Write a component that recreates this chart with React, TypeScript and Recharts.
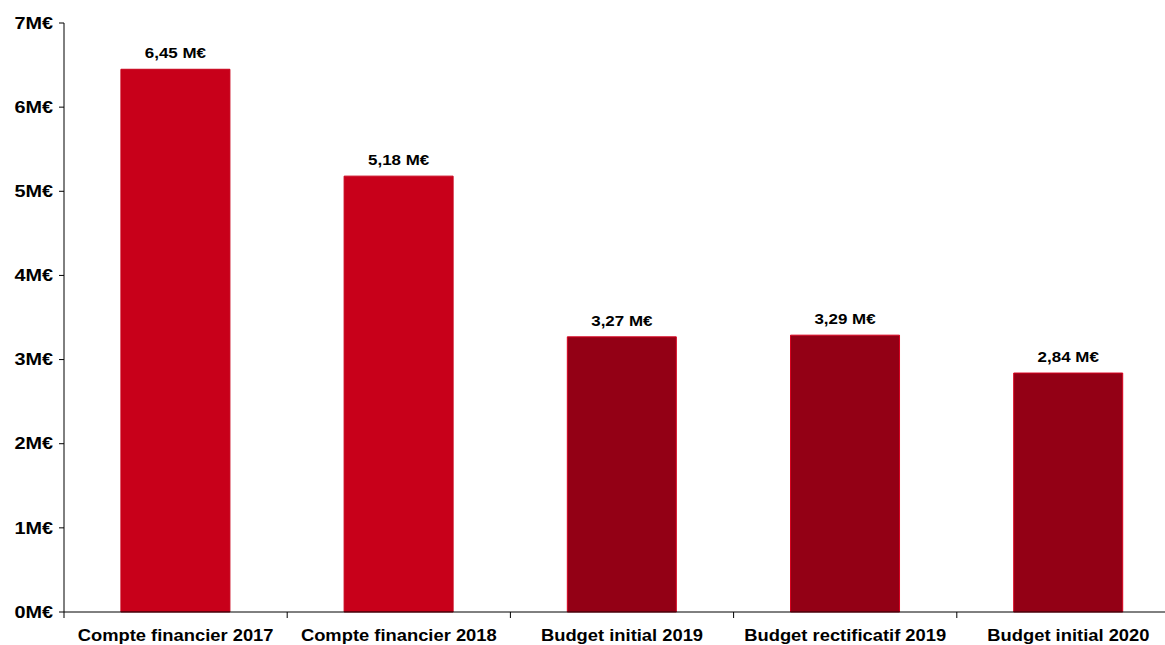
import React from 'react';
import { BarChart, Bar, XAxis, YAxis, LabelList, Cell } from 'recharts';

const categories = [
  'Compte financier 2017',
  'Compte financier 2018',
  'Budget initial 2019',
  'Budget rectificatif 2019',
  'Budget initial 2020',
];
const amounts = [6.45, 5.18, 3.27, 3.29, 2.84];
const isBudget = [false, false, true, true, true];
const yTicks = [0, 1, 2, 3, 4, 5, 6, 7];

const data = categories.map((name, i) => ({ name, value: amounts[i], budget: isBudget[i] }));

const font = 'Liberation Sans, Arial, sans-serif';

// the original text is drawn a little wider than plain Arial bold
const XTick = (props: any) => {
  const { x, y, payload } = props;
  const half = payload && payload.offset ? payload.offset : 111.5;
  return (
    <g>
      <line x1={x - half} y1={y - 8} x2={x - half} y2={y - 2} stroke="#000" strokeWidth={1} />
      <text
        transform={`translate(${x},${y + 21}) scale(1.08,1)`}
        textAnchor="middle"
        fontFamily={font}
        fontWeight="bold"
        fontSize={17}
        fill="#000"
      >
        {payload.value}
      </text>
    </g>
  );
};

const YTick = (props: any) => {
  const { x, y, payload } = props;
  return (
    <text
      transform={`translate(${x},${y}) scale(1.24,1)`}
      textAnchor="end"
      dy="0.36em"
      fontFamily={font}
      fontWeight="bold"
      fontSize={16}
      fill="#000"
    >
      {`${payload.value}M€`}
    </text>
  );
};

const fmt = (v: any) => `${Number(v).toFixed(2).replace('.', ',')} M€`;

const ValueLabel = (props: any) => {
  const { x, y, width, value } = props;
  return (
    <text
      transform={`translate(${x + width / 2},${y - 11}) scale(1.13,1)`}
      textAnchor="middle"
      fontFamily={font}
      fontWeight="bold"
      fontSize={15}
      fill="#000"
    >
      {fmt(value)}
    </text>
  );
};

export default function App() {
  return (
    <div style={{ position: 'fixed', left: 0, top: 0, width: 1165, height: 645, overflow: 'hidden', background: '#fff' }}>
      <BarChart
        width={1200}
        height={645}
        data={data}
        margin={{ top: 23, right: 20, left: 0, bottom: 3 }}
        barCategoryGap="25.5%"
      >
        <XAxis
          dataKey="name"
          axisLine={{ stroke: '#000' }}
          tickLine={false}
          tick={<XTick />}
          height={30}
          interval={0}
        />
        <YAxis
          domain={[0, 7]}
          ticks={yTicks}
          width={64}
          axisLine={{ stroke: '#000' }}
          tickLine={{ stroke: '#000' }}
          tickSize={5}
          tickMargin={6}
          tick={<YTick />}
        />
        <Bar dataKey="value" isAnimationActive={false}>
          {data.map((d, i) => (
            <Cell
              key={i}
              fill={d.budget ? '#930015' : '#C8001A'}
              stroke={d.budget ? '#D8001E' : '#C8001A'}
              strokeWidth={1}
            />
          ))}
          <LabelList dataKey="value" content={<ValueLabel />} />
        </Bar>
      </BarChart>
    </div>
  );
}
